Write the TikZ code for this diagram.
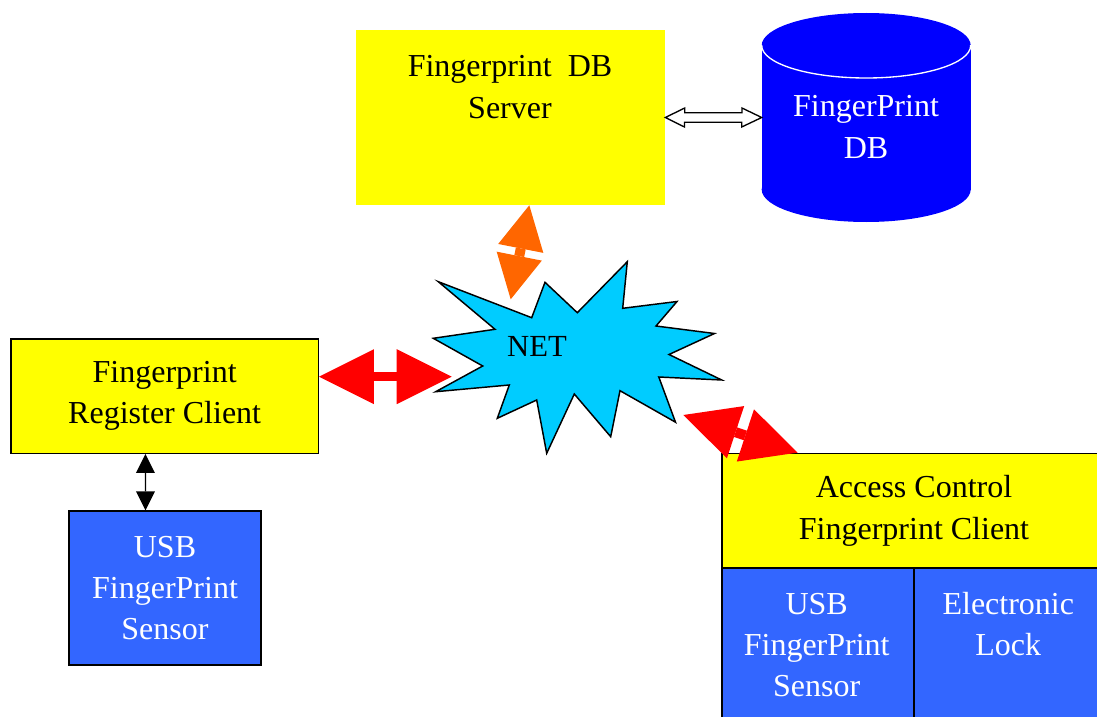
\documentclass[tikz,border=0pt]{standalone}
\usepackage{fontspec}
\setmainfont{Liberation Serif}
\usetikzlibrary{arrows.meta,calc}
\definecolor{boxyellow}{HTML}{FFFF00}
\definecolor{dbblue}{HTML}{0000FF}
\definecolor{sensblue}{HTML}{3366FF}
\definecolor{netcyan}{HTML}{00CCFF}
\definecolor{linkorange}{HTML}{FF6600}
\definecolor{linkred}{HTML}{FF0000}
\begin{document}
\begin{tikzpicture}[x=0.75pt,y=-0.75pt,
  txt/.style={align=center, inner sep=0pt, font=\fontsize{24}{31}\selectfont},
  wtxt/.style={txt, text=white},
  ybox/.style={fill=boxyellow, draw=black, line width=1pt, inner sep=0pt, txt},
  bbox/.style={fill=sensblue, draw=black, line width=1pt, inner sep=0pt, wtxt},
  redlink/.style={draw=linkred, line width=6.75pt,
    {Triangle[length=41.25pt 0 0, width=41.25pt 0 0, line width=0pt]}-{Triangle[length=41.25pt 0 0, width=41.25pt 0 0, line width=0pt]}},
  orangelink/.style={draw=linkorange, line width=7.5pt,
    {Triangle[length=33pt 0 0, width=34.5pt 0 0, line width=0pt]}-{Triangle[length=33pt 0 0, width=34.5pt 0 0, line width=0pt]}},
  blacklink/.style={draw=black, line width=1pt,
    {Triangle[length=14.25pt 0 0, width=14.25pt 0 0, line width=0pt]}-{Triangle[length=14.25pt 0 0, width=14.25pt 0 0, line width=0pt]}},
  outlinelink/.style={draw=black, fill=white, line width=1pt, line join=miter}
]
\clip (0,0) rectangle (1097,717);
\useasboundingbox (0,0) rectangle (1097,717);

% DB server
\node[fill=boxyellow, inner sep=0pt, minimum width=231.75pt, minimum height=131.25pt] (srv) at (510.5,117.5) {};
\node[txt] (srvtext) at (510,87) {Fingerprint\ \ DB\\Server};

% Database cylinder
\fill[dbblue] (761.7,45.5) rectangle (970.7,189.5);
\fill[dbblue] (866.2,189.5) ellipse [x radius=104.5, y radius=32.5];
\fill[dbblue] (866.2,45.5) ellipse [x radius=104.5, y radius=32.5];
\begin{scope}
  \clip (750,45.5) rectangle (985,90);
  \draw[white, line width=1pt] (866.2,45.5) ellipse [x radius=104.5, y radius=32.5];
\end{scope}
\node[wtxt] (db) at (866,127) {FingerPrint\\DB};
\coordinate (dbwest) at (761.7,117.5);

% Register client and its sensor
\node[ybox, minimum width=230.5pt, minimum height=85.7pt] (reg) at (164.65,396.15) {Fingerprint\\Register Client};
\node[bbox, minimum width=144pt, minimum height=115.5pt] (usb1) at (165,588) {USB\\FingerPrint\\Sensor};

% Access control client
\node[ybox, minimum width=288pt, minimum height=86.25pt] (acc) at (914,510.8) {Access Control\\Fingerprint Client};
\node[bbox, minimum width=144pt, minimum height=143.8pt] (usb2) at (818,664) {};
\node[bbox, minimum width=144pt, minimum height=143.8pt] (lock) at (1010,664) {};
\node[wtxt] (usb2text) at (816.7,645) {USB\\FingerPrint\\Sensor};
\node[wtxt] (locktext) at (1008.3,624) {Electronic\\Lock};

% NET star
\draw[fill=netcyan, draw=black, line width=1.1pt, line join=miter]
  (438.3,281.7) -- (531.7,317.7) -- (545,282.3) -- (577.3,312.7) -- (627.3,261.7)
  -- (622.7,308.3) -- (677,301.5) -- (656,326) -- (714.5,333.5) -- (669,354.5)
  -- (721.7,380) -- (658.8,377) -- (675.5,422.2) -- (620,390.7) -- (610.7,436.7)
  -- (574.3,394) -- (546.7,453.3) -- (536.7,400) -- (497.3,418.3) -- (509.3,385)
  -- (435.7,391.7) -- (482.7,366) -- (433.3,338.3) -- (495,329.3) -- cycle;
\node[txt, font=\fontsize{23}{28}\selectfont] (net) at (537,346.7) {NET};
\coordinate (nettop) at (510.7,299.3);
\coordinate (netleft) at (451.7,376.7);
\coordinate (netright) at (683.3,415);

% Links
\draw[outlinelink] (srv.east) -- ++(19.5,-9.5) -- ++(0,4.7) -- ++(57.2,0) -- ++(0,-4.7)
  -- (dbwest) -- ++(-20,9.5) -- ++(0,-4.7) -- ++(-57.2,0) -- ++(0,4.7) -- cycle;
\draw[orangelink] ($(srv.south)+(18.8,0)$) -- (nettop);
\draw[redlink] (reg.east |- netleft) -- (netleft);
\draw[redlink, line width=7.5pt] (netright) -- ($(acc.north west)+(76.3,0)$);
\draw[blacklink] ($(reg.south)+(-19.2,0)$) -- ($(usb1.north)+(-19.5,0)$);
\end{tikzpicture}
\end{document}
